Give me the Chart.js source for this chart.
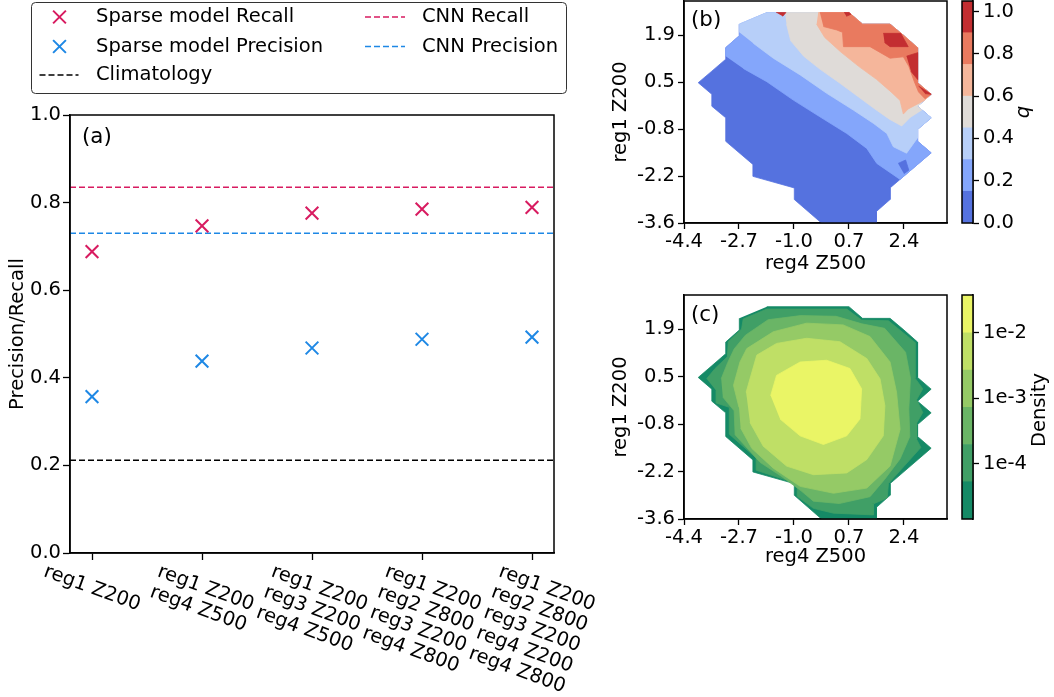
<!DOCTYPE html>
<html>
<head>
<meta charset="utf-8">
<script src="https://cdn.jsdelivr.net/npm/chart.js@4.4.0/dist/chart.umd.min.js"></script>
<style>
    html, body { margin: 0; padding: 0; background: #fff; }
    body { width: 1054px; height: 697px; position: relative; overflow: hidden; }
    canvas { position: absolute; }
</style>
</head>
<body>
<canvas id="chartA" width="600" height="697" style="left:0;top:0"></canvas>
<canvas id="chartB" width="352" height="290" style="left:600px;top:0"></canvas>
<canvas id="chartC" width="352" height="290" style="left:600px;top:290px"></canvas>
<canvas id="barB" width="114" height="240" style="left:940px;top:0"></canvas>
<canvas id="barC" width="114" height="240" style="left:940px;top:290px"></canvas>
<script>
// Panel (a): predictor sets and scores
const setupLabels = [
    ['reg1 Z200'],
    ['reg1 Z200', 'reg4 Z500'],
    ['reg1 Z200', 'reg3 Z200', 'reg4 Z500'],
    ['reg1 Z200', 'reg2 Z800', 'reg3 Z200', 'reg4 Z800'],
    ['reg1 Z200', 'reg2 Z800', 'reg3 Z200', 'reg4 Z200', 'reg4 Z800']
];
const sparseRecall = [0.688, 0.747, 0.776, 0.785, 0.789];
const sparsePrecision = [0.357, 0.438, 0.468, 0.488, 0.493];
const cnnRecall = 0.835;
const cnnPrecision = 0.730;
const climatology = 0.212;

// Panels (b), (c): axes
const xTicksZ500 = [-4.4, -2.7, -1.0, 0.7, 2.4];
const yTicksZ200 = [-3.6, -2.22, -0.84, 0.54, 1.92];

// Panel (b): q levels and filled regions (q >= level), in data units
const qLevels = [0, 0.15, 0.3, 0.45, 0.6, 0.75, 0.9, 1.05];
const qTicks = [0, 0.2, 0.4, 0.6, 0.8, 1.0];
const qColors = ['#5572df', '#84a6fb', '#b7cff9', '#dfdbd8', '#f5b69b', '#e97a5f', '#c32e31'];

const domain = [[-1.84,2.58],[0.70,2.58],[1.12,2.24],[1.97,2.24],[2.40,1.90],[2.82,1.55],[2.82,0.52],[3.24,0.18],[2.82,-0.17],[3.24,-0.51],[2.82,-0.85],[2.82,-1.20],[3.24,-1.54],[1.97,-2.57],[1.97,-2.91],[1.55,-3.26],[1.55,-3.60],[-0.15,-3.60],[-0.99,-2.91],[-0.99,-2.57],[-2.27,-2.23],[-2.27,-1.88],[-3.11,-1.20],[-3.11,-0.51],[-3.54,-0.17],[-3.54,0.18],[-3.96,0.52],[-3.54,0.86],[-3.11,1.21],[-3.11,1.55],[-2.69,1.90],[-2.69,2.24]];
const qAbove015 = [[-3.11,1.30],[-3.11,1.55],[-2.69,1.90],[-2.69,2.24],[-1.84,2.58],[0.70,2.58],[1.12,2.24],[1.97,2.24],[2.40,1.90],[2.82,1.55],[2.82,0.52],[3.24,0.18],[2.82,-0.17],[3.24,-0.51],[2.82,-0.85],[2.82,-1.20],[3.24,-1.54],[2.28,-2.32],[1.56,-1.85],[1.25,-1.41],[0.63,-0.97],[-0.20,-0.48],[-1.02,0.01],[-1.84,0.55],[-2.57,0.94]];
const qBelow015 = [[2.22,-1.85],[2.45,-1.75],[2.55,-2.05],[2.40,-2.15]];
const qAbove030 = [[-2.69,2.00],[-2.69,2.24],[-1.84,2.58],[0.70,2.58],[1.12,2.24],[1.97,2.24],[2.40,1.90],[2.82,1.55],[2.82,0.52],[3.24,0.18],[2.82,-0.17],[3.24,-0.51],[2.82,-0.85],[2.82,-1.10],[2.48,-1.55],[2.07,-1.36],[1.87,-0.97],[1.45,-0.67],[0.83,-0.28],[0.01,0.21],[-0.81,0.75],[-1.64,1.24],[-2.26,1.68]];
const qAbove045 = [[-1.28,2.58],[0.70,2.58],[1.12,2.24],[1.97,2.24],[2.40,1.90],[2.82,1.55],[2.82,0.52],[3.24,0.18],[2.82,-0.17],[2.95,-0.28],[2.59,-0.50],[2.33,-0.75],[1.95,-0.55],[1.50,-0.25],[1.00,0.10],[0.40,0.52],[-0.20,0.92],[-0.70,1.30],[-1.10,1.75],[-1.23,2.24]];
const qAbove060 = [[-0.25,2.58],[0.70,2.58],[1.12,2.24],[1.97,2.24],[2.40,1.90],[2.82,1.55],[2.82,0.52],[3.24,0.18],[3.03,0.00],[2.53,-0.25],[2.38,-0.40],[2.28,0.00],[2.00,0.25],[1.55,0.62],[1.00,1.00],[0.45,1.42],[-0.05,1.85],[-0.30,2.24]];
const qAbove075 = [[-0.20,2.58],[0.70,2.58],[1.12,2.24],[1.97,2.24],[2.40,1.90],[2.82,1.55],[2.82,0.52],[3.24,0.18],[3.05,0.05],[2.85,0.25],[2.72,0.55],[2.55,1.00],[2.38,1.28],[1.97,1.24],[1.35,1.58],[0.53,1.58],[0.50,2.00],[0.32,2.07],[-0.09,2.17]];
const qAbove090 = [
    [[1.76,1.97],[2.30,1.97],[2.53,1.58],[1.97,1.58],[1.80,1.70]],
    [[2.48,1.30],[2.82,1.40],[2.82,0.62],[2.62,0.85]],
    [[2.85,0.42],[3.24,0.18],[3.05,0.20]],
    [[-1.55,2.58],[-1.25,2.58],[-1.35,2.47]],
    [[0.55,2.58],[0.70,2.58],[0.76,2.53],[0.62,2.47]]
];

// Panel (c): density levels (log10) and filled regions
const densityLogLevels = [-4.85, -4.28, -3.71, -3.14, -2.57, -2.00, -1.42];
const densityTicks = [1e-4, 1e-3, 1e-2];
const densityColors = ['#158a66', '#409f66', '#6ab566', '#95ca66', '#bfdf66', '#eaf566'];
const densityAbove1 = [[-3.70,0.48],[-3.44,0.78],[-3.06,1.12],[-3.03,1.56],[-2.62,1.93],[-2.57,2.22],[-1.84,2.51],[0.63,2.51],[1.09,2.19],[1.92,2.17],[2.74,1.54],[2.74,0.50],[2.98,0.19],[2.79,-0.13],[2.98,-0.50],[2.79,-0.81],[2.79,-1.28],[2.92,-1.52],[1.92,-2.57],[1.88,-2.99],[1.45,-3.16],[1.45,-3.48],[0.22,-3.43],[-0.40,-3.29],[-0.90,-2.94],[-0.90,-2.57],[-2.17,-2.18],[-2.17,-1.82],[-3.00,-1.13],[-3.00,-0.35],[-3.41,-0.22],[-3.41,0.14]];
const densityAbove2 = [[-3.25,0.48],[-3.05,0.95],[-2.85,1.35],[-2.50,1.75],[-1.80,2.20],[-0.80,2.32],[0.30,2.30],[1.10,2.08],[1.80,1.95],[2.45,1.25],[2.60,0.50],[2.55,-0.40],[2.58,-1.20],[2.28,-1.85],[1.80,-2.45],[1.35,-2.95],[0.40,-3.15],[-0.40,-3.08],[-0.78,-2.78],[-1.40,-2.35],[-2.05,-1.95],[-2.82,-1.15],[-2.85,-0.45],[-3.20,-0.05]];
const densityAbove3 = [[-2.70,-0.35],[-2.87,0.29],[-2.67,0.97],[-2.46,1.36],[-1.64,1.85],[-0.61,2.10],[0.52,2.05],[1.35,1.71],[1.97,0.97],[2.17,0.09],[2.28,-0.99],[1.97,-2.06],[1.25,-2.70],[0.22,-2.85],[-0.81,-2.65],[-1.64,-2.12],[-2.30,-1.55],[-2.65,-0.95]];
const densityAbove4 = [[-2.48,0.09],[-2.15,1.17],[-1.54,1.51],[-0.61,1.66],[0.42,1.56],[1.25,1.07],[1.66,0.48],[1.81,-0.30],[1.76,-1.18],[1.25,-1.87],[0.63,-2.26],[-0.40,-2.31],[-1.23,-2.06],[-1.95,-1.48],[-2.36,-0.79]];
const densityAbove5 = [[-1.72,-0.01],[-1.54,0.58],[-0.81,0.97],[0.01,1.02],[0.73,0.78],[1.09,0.19],[1.04,-0.69],[0.63,-1.18],[-0.09,-1.43],[-0.81,-1.18],[-1.43,-0.69]];

const red = '#d81b60';
const blue = '#1e88e5';
const fontFamily = '"DejaVu Sans", sans-serif';
const fontSize = 19.5;

Chart.defaults.font.family = fontFamily;
Chart.defaults.font.size = fontSize;
Chart.defaults.color = '#000';
Chart.defaults.animation = false;
Chart.defaults.events = [];
Chart.defaults.plugins.legend.display = false;
Chart.defaults.plugins.tooltip.enabled = false;

// Helpers
const fixSize = (size) => (scale) => {
    if (scale.isHorizontal()) scale.height = size; else scale.width = size;
    scale.paddingTop = 0; scale.paddingBottom = 0;
    scale.paddingLeft = 0; scale.paddingRight = 0;
};

const setTicks = (values) => (scale) => {
    scale.ticks = values.map((v) => ({value: v}));
};

const framePlugin = {
    id: 'frame',
    afterDraw: (chart) => {
        let a = chart.chartArea;
        let ctx = chart.ctx;
        ctx.save();
        ctx.strokeStyle = '#000';
        ctx.lineWidth = 1.5;
        ctx.strokeRect(a.left, a.top, a.right - a.left, a.bottom - a.top);
        ctx.restore();
    }
};

const textPlugin = (items) => ({
    id: 'texts',
    afterDraw: (chart) => {
        let ctx = chart.ctx;
        items.forEach((t) => {
            ctx.save();
            ctx.font = t.font;
            ctx.fillStyle = '#000';
            ctx.textAlign = t.align || 'left';
            ctx.textBaseline = 'middle';
            ctx.translate(t.x, t.y);
            if (t.rotate) ctx.rotate(t.rotate);
            ctx.fillText(t.text, 0, 0);
            ctx.restore();
        });
    }
});

const tickGrid = {drawOnChartArea: false, tickLength: 6, tickColor: '#000', tickWidth: 1.3};
const axisBorder = {color: '#000', width: 1.5};

const polygonSet = (poly, color, order) => ({
    data: poly.map((p) => ({x: p[0], y: p[1]})),
    showLine: true,
    fill: 'shape',
    tension: 0,
    pointRadius: 0,
    borderWidth: 0.8,
    borderColor: color,
    backgroundColor: color,
    order: order
});

// Panel (a)
const xMin = -0.2;
const xMax = 4.2;

const setupLabelPlugin = {
    id: 'setupLabels',
    afterDraw: (chart) => {
        let ctx = chart.ctx;
        let xScale = chart.scales.x;
        let angle = 20 * Math.PI / 180;
        let s = Math.sin(angle);
        let lineH = 21.8;
        let top = chart.chartArea.bottom + 8;
        ctx.save();
        ctx.font = fontSize + 'px ' + fontFamily;
        ctx.fillStyle = '#000';
        ctx.textAlign = 'center';
        ctx.textBaseline = 'middle';
        setupLabels.forEach((lines, i) => {
            let w = Math.max(...lines.map((l) => ctx.measureText(l).width));
            let h = lines.length * lineH;
            let x = xScale.getPixelForValue(i);
            ctx.save();
            ctx.translate(x + h * s / 2, top + w * s / 2);
            ctx.rotate(angle);
            lines.forEach((l, j) => ctx.fillText(l, 0, (j + 0.5) * lineH));
            ctx.restore();
        });
        ctx.restore();
    }
};

const legendPlugin = {
    id: 'boxLegend',
    afterDraw: (chart) => {
        let ctx = chart.ctx;
        ctx.save();
        // frame
        let x0 = 31.5, y0 = 2.5, x1 = 566.5, y1 = 93.5, r = 4;
        ctx.beginPath();
        ctx.moveTo(x0 + r, y0);
        ctx.arcTo(x1, y0, x1, y1, r);
        ctx.arcTo(x1, y1, x0, y1, r);
        ctx.arcTo(x0, y1, x0, y0, r);
        ctx.arcTo(x0, y0, x1, y0, r);
        ctx.closePath();
        ctx.fillStyle = '#fff';
        ctx.fill();
        ctx.strokeStyle = '#333';
        ctx.lineWidth = 1;
        ctx.stroke();
        // markers
        let cross = (cx, cy, color) => {
            ctx.strokeStyle = color;
            ctx.lineWidth = 2;
            ctx.beginPath();
            ctx.moveTo(cx - 6.4, cy - 6.4); ctx.lineTo(cx + 6.4, cy + 6.4);
            ctx.moveTo(cx - 6.4, cy + 6.4); ctx.lineTo(cx + 6.4, cy - 6.4);
            ctx.stroke();
        };
        let dash = (xa, xb, cy, color) => {
            ctx.strokeStyle = color;
            ctx.lineWidth = 1.5;
            ctx.setLineDash([6, 3]);
            ctx.beginPath();
            ctx.moveTo(xa, cy); ctx.lineTo(xb, cy);
            ctx.stroke();
            ctx.setLineDash([]);
        };
        cross(59.5, 17, red);
        cross(59.5, 46.5, blue);
        dash(39.5, 78.5, 75, '#000');
        dash(365, 405, 17, red);
        dash(365, 405, 46.5, blue);
        ctx.fillStyle = '#000';
        ctx.font = fontSize + 'px ' + fontFamily;
        ctx.textBaseline = 'middle';
        ctx.fillText('Sparse model Recall', 96, 17);
        ctx.fillText('Sparse model Precision', 96, 46.5);
        ctx.fillText('Climatology', 96, 75);
        ctx.fillText('CNN Recall', 422, 17);
        ctx.fillText('CNN Precision', 422, 46.5);
        ctx.restore();
    }
};

const crossSet = (label, values, color) => ({
    label: label,
    data: values.map((v, i) => ({x: i, y: v})),
    pointStyle: 'crossRot',
    pointRadius: 9,
    pointBorderWidth: 2,
    borderColor: color,
    backgroundColor: color
});

const levelLine = (label, value, color) => ({
    label: label,
    data: [{x: xMin, y: value}, {x: xMax, y: value}],
    showLine: true,
    pointRadius: 0,
    borderWidth: 1.5,
    borderDash: [6, 3],
    borderColor: color
});

const createScorePanel = () => {
    let config = {
        type: 'scatter',
        data: {
            datasets: [
                crossSet('Sparse model Recall', sparseRecall, red),
                crossSet('Sparse model Precision', sparsePrecision, blue),
                levelLine('CNN Recall', cnnRecall, red),
                levelLine('CNN Precision', cnnPrecision, blue),
                levelLine('Climatology', climatology, '#000')
            ]
        },
        options: {
            responsive: false,
            devicePixelRatio: 1,
            layout: {padding: {left: 0, top: 115, right: 46, bottom: 0}},
            scales: {
                x: {
                    type: 'linear', min: xMin, max: xMax,
                    afterBuildTicks: setTicks([0, 1, 2, 3, 4]),
                    ticks: {display: false},
                    grid: Object.assign({}, tickGrid, {tickLength: 7}),
                    border: axisBorder,
                    afterFit: fixSize(144)
                },
                y: {
                    min: 0, max: 1,
                    afterBuildTicks: setTicks([0, 0.2, 0.4, 0.6, 0.8, 1.0]),
                    ticks: {padding: 2, callback: (v) => v.toFixed(1)},
                    grid: Object.assign({}, tickGrid, {tickLength: 7}),
                    border: axisBorder,
                    title: {display: true, text: 'Precision/Recall', padding: {top: 6, bottom: 0}},
                    afterFit: fixSize(70)
                }
            }
        },
        plugins: [framePlugin, setupLabelPlugin, legendPlugin,
            textPlugin([{text: '(a)', x: 82, y: 137, font: '21.4px ' + fontFamily}])]
    };
    new Chart(document.getElementById('chartA'), config);
};

// Panels (b) and (c)
const createFieldPanel = (canvasId, layers, padTop, xHeight, titlePad, tag, tagY) => {
    let datasets = layers.map((l, i) => polygonSet(l.poly, l.color, layers.length - i));
    let config = {
        type: 'scatter',
        data: {datasets: datasets},
        options: {
            responsive: false,
            devicePixelRatio: 1,
            layout: {padding: {left: 0, top: padTop, right: 5, bottom: 0}},
            scales: {
                x: {
                    type: 'linear', min: -4.4, max: 3.73,
                    afterBuildTicks: setTicks(xTicksZ500),
                    ticks: {padding: 1, maxRotation: 0, autoSkip: false, callback: (v) => v.toFixed(1)},
                    title: {display: true, text: 'reg4 Z500', padding: {top: 0, bottom: titlePad}},
                    grid: tickGrid,
                    border: axisBorder,
                    afterFit: fixSize(xHeight)
                },
                y: {
                    type: 'linear', min: -3.6, max: 2.92,
                    afterBuildTicks: setTicks(yTicksZ200),
                    ticks: {padding: 3, autoSkip: false, callback: (v) => v.toFixed(1)},
                    title: {display: true, text: 'reg1 Z200', padding: {top: 9, bottom: 0}},
                    grid: tickGrid,
                    border: axisBorder,
                    afterFit: fixSize(84)
                }
            }
        },
        plugins: [framePlugin, textPlugin([{text: tag, x: 91, y: tagY, font: '21.4px ' + fontFamily}])]
    };
    new Chart(document.getElementById(canvasId), config);
};

// Colour bars
const createColorBar = (canvasId, bounds, colors, yScale, padTop, padBottom, title) => {
    let datasets = colors.map((c, k) => ({
        data: [[bounds[k], bounds[k + 1]]],
        backgroundColor: c,
        borderWidth: 0,
        barPercentage: 1,
        categoryPercentage: 1,
        grouped: false
    }));
    let config = {
        type: 'bar',
        data: {labels: [''], datasets: datasets},
        options: {
            responsive: false,
            devicePixelRatio: 1,
            layout: {padding: {left: 22, top: padTop, right: 0, bottom: padBottom}},
            scales: {
                x: {display: false},
                y: Object.assign({
                    position: 'right',
                    grid: tickGrid,
                    border: axisBorder,
                    afterFit: fixSize(81)
                }, yScale)
            }
        },
        plugins: [framePlugin, textPlugin([title])]
    };
    new Chart(document.getElementById(canvasId), config);
};

createScorePanel();

let qLayers = [
    {poly: domain, color: qColors[0]},
    {poly: qAbove015, color: qColors[1]},
    {poly: qBelow015, color: qColors[0]},
    {poly: qAbove030, color: qColors[2]},
    {poly: qAbove045, color: qColors[3]},
    {poly: qAbove060, color: qColors[4]},
    {poly: qAbove075, color: qColors[5]}
].concat(qAbove090.map((p) => ({poly: p, color: qColors[6]})));
createFieldPanel('chartB', qLayers, 1, 67, 14, '(b)', 20);

let densityLayers = [
    {poly: domain, color: densityColors[0]},
    {poly: densityAbove1, color: densityColors[1]},
    {poly: densityAbove2, color: densityColors[2]},
    {poly: densityAbove3, color: densityColors[3]},
    {poly: densityAbove4, color: densityColors[4]},
    {poly: densityAbove5, color: densityColors[5]}
];
createFieldPanel('chartC', densityLayers, 5, 61, 11, '(c)', 25);

createColorBar('barB', qLevels, qColors, {
    min: qLevels[0], max: qLevels[qLevels.length - 1],
    afterBuildTicks: setTicks(qTicks),
    ticks: {padding: 4, callback: (v) => v.toFixed(1)}
}, 1, 17, {text: 'q', x: 84, y: 112, rotate: -Math.PI / 2, font: 'italic ' + fontSize + 'px ' + fontFamily, align: 'center'});

createColorBar('barC', densityLogLevels.map((e) => Math.pow(10, e)), densityColors, {
    type: 'logarithmic',
    min: Math.pow(10, densityLogLevels[0]), max: Math.pow(10, densityLogLevels[densityLogLevels.length - 1]),
    afterBuildTicks: setTicks(densityTicks),
    ticks: {padding: 4, callback: (v) => '1e' + Math.round(Math.log10(v))}
}, 5, 11, {text: 'Density', x: 100, y: 120, rotate: -Math.PI / 2, font: fontSize + 'px ' + fontFamily, align: 'center'});
</script>
</body>
</html>
